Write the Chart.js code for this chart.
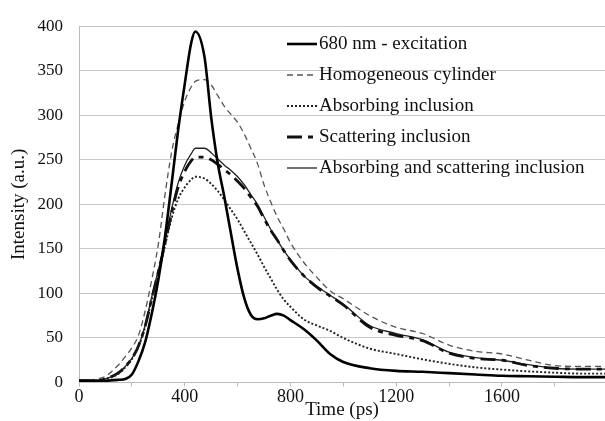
<!DOCTYPE html>
<html>
<head>
<meta charset="utf-8">
<script src="https://cdn.jsdelivr.net/npm/chart.js@4.4.1/dist/chart.umd.min.js"></script>
<style>
  html, body { margin: 0; padding: 0; background: #fff; }
  canvas { display: block; }
</style>
</head>
<body>
<canvas id="chart" width="605" height="421"></canvas>
<script>
// time axis (ps), shared by every curve
const times = [0, 50, 100, 150, 175, 200, 225, 250, 275, 300, 325, 350, 375, 400, 425, 440, 475, 500, 525, 550,
    575, 600, 625, 650, 675, 700, 725, 750, 775, 800, 850, 900, 950, 1000, 1100, 1200, 1300, 1400, 1500, 1600,
    1700, 1800, 1900, 1990];

const excitation = [2, 2, 2, 3, 4, 9, 24, 45, 77, 115, 163, 222, 283, 335, 382, 394, 365, 298, 246, 208,
    167, 127, 95, 76, 71, 72, 75, 77, 75, 70, 60, 47, 32, 23, 16, 13, 12, 10.5, 9, 7.5,
    7, 6.5, 6, 6];
const homogeneous = [2, 3, 7, 20, 29, 39, 53, 80, 115, 155, 210, 258, 290, 316, 332, 338, 340, 334, 322, 310,
    301, 292, 279, 263, 246, 222, 203, 186, 172, 157, 135, 118, 103, 94, 75, 62, 55, 42, 35, 32,
    25, 19, 18, 18];
const absorbing = [2, 2, 4, 10, 17, 26, 40, 62, 93, 123, 153, 184, 206, 219, 228, 231, 229, 223, 215, 205,
    194, 183, 170, 157, 144, 130, 117, 104, 93, 85, 71, 64, 58, 50, 38, 32, 26, 21, 17, 14.5,
    12.5, 11, 10, 10];
const scattering = [2, 2, 4, 11, 18, 27, 41, 63, 94, 124, 156, 190, 219, 237, 249, 253, 253, 250, 245, 239,
    233, 226, 218, 208, 198, 184, 171, 160, 148, 137, 120, 107, 97, 87, 62, 53, 47, 33, 27, 25,
    19, 16, 15, 15];
const absScat = [2, 2, 4, 11, 18, 27, 41, 64, 96, 126, 157, 194, 224, 244, 257, 263, 263, 258, 251, 244,
    238, 231, 222, 211, 200, 186, 172, 160, 148, 138, 120, 108, 98, 88, 64, 55, 48, 34, 28, 25,
    20, 16, 15, 15];

const seriesNames = ['680 nm - excitation', 'Homogeneous cylinder', 'Absorbing inclusion',
    'Scattering inclusion', 'Absorbing and scattering inclusion'];

const yTicks = [0, 50, 100, 150, 200, 250, 300, 350, 400];
const xLabels = [0, 400, 800, 1200, 1600];

const serif = "'Liberation Serif', 'Times New Roman', serif";

const toPoints = (vals) => vals.map((v, i) => ({ x: times[i], y: v }));

const styles = [
    { color: '#000', width: 2.6, dash: [] },
    { color: '#555', width: 1.3, dash: [6, 4] },
    { color: '#222', width: 1.9, dash: [2, 2] },
    { color: '#111', width: 2.8, dash: [15, 6, 5, 6] },
    { color: '#222', width: 1.3, dash: [] }
];

const allSeries = [excitation, homogeneous, absorbing, scattering, absScat];

const datasets = allSeries.map((vals, i) => ({
    label: seriesNames[i],
    data: toPoints(vals),
    borderColor: styles[i].color,
    borderWidth: styles[i].width,
    borderDash: styles[i].dash,
    pointRadius: 0,
    fill: false,
    cubicInterpolationMode: 'monotone'
}));

// legend drawn inside the plot, lines + labels
const insideLegend = {
    id: 'insideLegend',
    afterDraw(chart) {
        const ctx = chart.ctx;
        ctx.save();
        chart.data.datasets.forEach((ds, i) => {
            const y = 44 + i * 31;
            ctx.beginPath();
            ctx.strokeStyle = ds.borderColor;
            ctx.lineWidth = ds.borderWidth;
            ctx.setLineDash(ds.borderDash);
            ctx.moveTo(287, y);
            ctx.lineTo(317, y);
            ctx.stroke();
            ctx.setLineDash([]);
            ctx.fillStyle = '#111';
            ctx.font = '19px ' + serif;
            ctx.textAlign = 'left';
            ctx.textBaseline = 'middle';
            ctx.fillText(ds.label, 319, y);
        });
        ctx.restore();
    }
};

new Chart(document.getElementById('chart'), {
    type: 'line',
    data: { datasets: datasets },
    options: {
        responsive: false,
        animation: false,
        layout: { padding: { top: 18, right: 0, bottom: 0, left: 0 } },
        plugins: {
            legend: { display: false },
            tooltip: { enabled: false }
        },
        scales: {
            x: {
                type: 'linear',
                min: 0,
                max: 1990,
                afterFit: (scale) => { scale.height = 38.5; },
                afterBuildTicks: (scale) => {
                    const t = [];
                    for (let v = 0; v < 1990; v += 200) t.push({ value: v });
                    scale.ticks = t;
                },
                border: { color: '#bbb', width: 1 },
                grid: {
                    drawOnChartArea: false,
                    drawTicks: true,
                    tickLength: 4,
                    color: '#bbb'
                },
                ticks: {
                    autoSkip: false,
                    maxRotation: 0,
                    padding: 0,
                    color: '#111',
                    font: { family: serif, size: 18 },
                    callback: function (v) {
                        const r = Math.round(v);
                        return xLabels.includes(r) ? String(r) : '';
                    }
                },
                title: {
                    display: true,
                    text: 'Time (ps)',
                    color: '#111',
                    font: { family: serif, size: 19 },
                    padding: { top: 0, bottom: 0 }
                }
            },
            y: {
                min: 0,
                max: 400,
                afterFit: (scale) => { scale.width = 79; },
                afterBuildTicks: (scale) => { scale.ticks = yTicks.map(v => ({ value: v })); },
                border: { color: '#bbb', width: 1 },
                grid: {
                    color: '#c8c8c8',
                    drawTicks: false
                },
                ticks: {
                    padding: 16,
                    color: '#111',
                    font: { family: serif, size: 17 }
                },
                title: {
                    display: true,
                    text: 'Intensity (a.u.)',
                    color: '#111',
                    font: { family: serif, size: 19 },
                    padding: { top: 8, bottom: 0 }
                }
            }
        }
    },
    plugins: [insideLegend]
});
</script>
</body>
</html>
